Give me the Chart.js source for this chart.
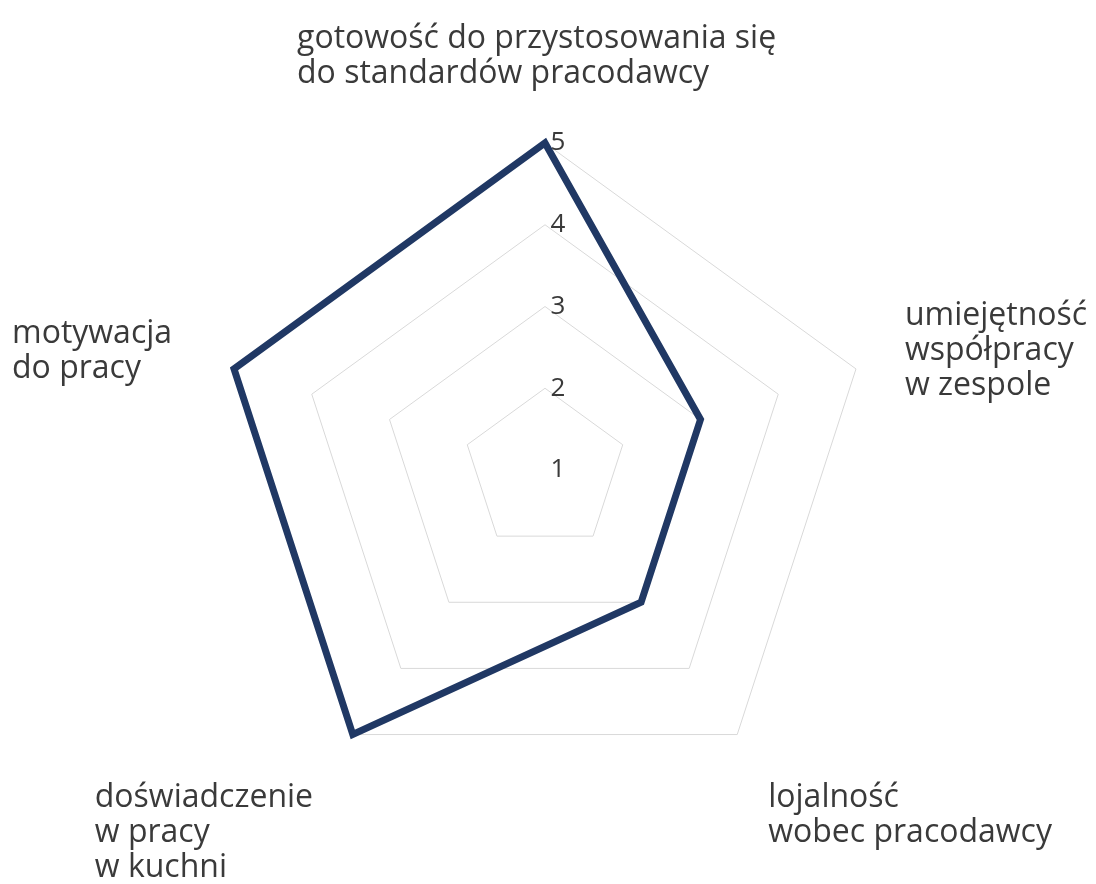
<!DOCTYPE html>
<html>
<head>
<meta charset="utf-8">
<script src="https://cdn.jsdelivr.net/npm/chart.js@4"></script>
<style>
  html, body { margin: 0; padding: 0; background: #fff; }
  #wrap { width: 1096px; height: 884px; position: relative; }
</style>
</head>
<body>
<div id="wrap"><canvas id="radar"></canvas></div>
<script>
// categories (each label split into lines as in the original)
const categories = [
  ["gotowość do przystosowania się", "do standardów pracodawcy"],
  ["umiejętność", "współpracy", "w zespole"],
  ["lojalność", "wobec pracodawcy"],
  ["doświadczenie", "w pracy", "w kuchni"],
  ["motywacja", "do pracy"]
];
const scores = [5, 3, 3, 5, 5];
const tickValues = [1, 2, 3, 4, 5];

// where each label block sits (middle of first line), relative to its outer vertex
const labelOffsets = [
  [-248, -104],
  [49, -53],
  [31, 63],
  [-258, 63],
  [-222, -35]
];

const textColor = '#3a3a3a';
const labelFont = '32px "Open Sans"';
const lineH = 35;

const labelPlugin = {
  id: 'labels',
  afterDraw(chart) {
    const r = chart.scales.r;
    const ctx = chart.ctx;
    ctx.save();
    ctx.fillStyle = textColor;
    // tick values, just right of the vertical axis
    ctx.font = '26px "Open Sans"';
    ctx.textAlign = 'center';
    ctx.textBaseline = 'middle';
    tickValues.forEach(v => {
      const d = r.getDistanceFromCenterForValue(v);
      ctx.fillText(String(v), r.xCenter + 13, r.yCenter - d);
    });
    // axis labels, left aligned blocks
    ctx.font = labelFont;
    ctx.textAlign = 'left';
    ctx.textBaseline = 'middle';
    categories.forEach((lines, i) => {
      const p = r.getPointPosition(i, r.drawingArea);
      const [ox, oy] = labelOffsets[i];
      lines.forEach((line, k) => {
        ctx.fillText(line, p.x + ox, p.y + oy + k * lineH);
      });
    });
    ctx.restore();
  }
};

new Chart(document.getElementById('radar'), {
  type: 'radar',
  data: {
    labels: categories,
    datasets: [{
      data: scores,
      borderColor: '#203864',
      borderWidth: 7,
      borderJoinStyle: 'miter',
      pointRadius: 0,
      pointHoverRadius: 0,
      fill: false,
      tension: 0
    }]
  },
  options: {
    responsive: true,
    maintainAspectRatio: false,
    animation: false,
    layout: { padding: { top: 143, bottom: 87, left: 200, right: 206 } },
    plugins: { legend: { display: false }, tooltip: { enabled: false } },
    scales: {
      r: {
        min: 1,
        max: 5,
        ticks: { stepSize: 1, display: false },
        pointLabels: { display: false },
        angleLines: { display: false },
        grid: { color: '#d9d9d9', lineWidth: 1 }
      }
    }
  },
  plugins: [labelPlugin]
});
</script>
</body>
</html>
